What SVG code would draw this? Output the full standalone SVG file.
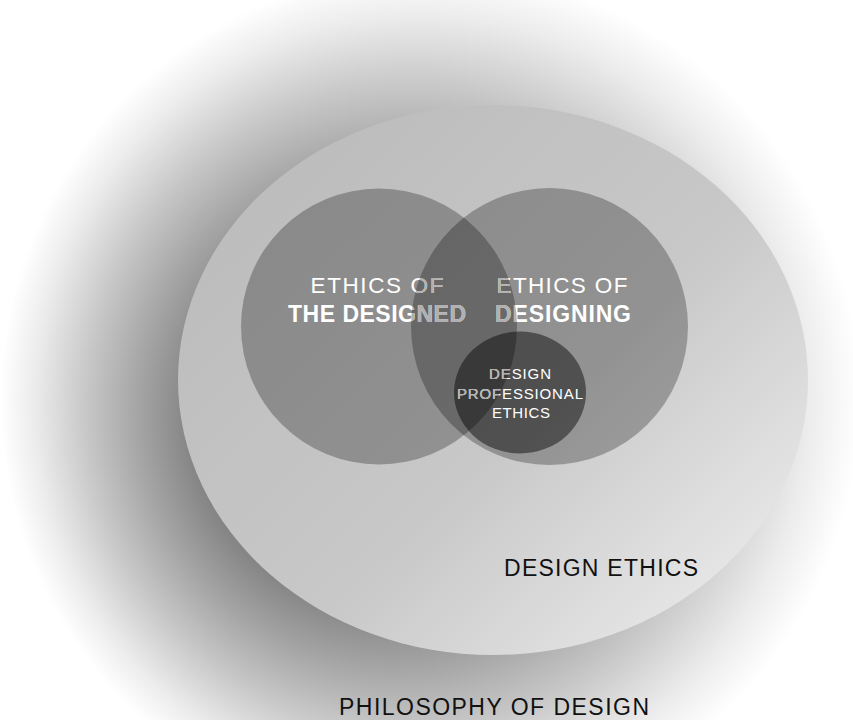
<svg xmlns="http://www.w3.org/2000/svg" width="853" height="720" viewBox="0 0 853 720">
  <defs>
    <!-- soft grey halo of the outer field, heaviest towards the lower left -->
    <radialGradient id="haloGrad" gradientUnits="userSpaceOnUse" cx="430" cy="400" r="430" fx="340" fy="430">
      <stop offset="0" stop-color="#606060"/>
      <stop offset="0.45" stop-color="#868686"/>
      <stop offset="0.6" stop-color="#a6a6a6"/>
      <stop offset="0.75" stop-color="#c8c8c8"/>
      <stop offset="0.9" stop-color="#ececec"/>
      <stop offset="1" stop-color="#ffffff"/>
    </radialGradient>
    <!-- light fill of the design-ethics field -->
    <linearGradient id="fieldGrad" gradientUnits="userSpaceOnUse" x1="300" y1="170" x2="770" y2="650">
      <stop offset="0" stop-color="#bdbdbd"/>
      <stop offset="0.5" stop-color="#c8c8c8"/>
      <stop offset="1" stop-color="#efefef"/>
    </linearGradient>
    <clipPath id="clipLeft"><circle cx="379" cy="326.5" r="138"/></clipPath>
    <clipPath id="clipRight"><circle cx="549.5" cy="326.5" r="138.5"/></clipPath>
    <style>
      .set { fill: #000; fill-opacity: 0.27; }
      .inner { fill: #000; fill-opacity: 0.45; }
      .lbl { font-family: "Liberation Sans", Arial, sans-serif; fill: #ffffff; text-anchor: middle; }
      .dim { fill: #b0b0b0; }
      .big { font-size: 22.5px; font-weight: 400; }
      .bold { font-size: 23px; font-weight: 700; }
      .small { font-size: 15px; font-weight: 400; }
      .title { font-family: "Liberation Sans", Arial, sans-serif; font-size: 23px; fill: #111111; }
    </style>
  </defs>

  <rect width="853" height="720" fill="#ffffff"/>

  <g id="philosophy-of-design">
    <circle cx="430" cy="400" r="430" fill="url(#haloGrad)"/>
    <text class="title" x="339" y="715" textLength="310" lengthAdjust="spacing">PHILOSOPHY OF DESIGN</text>
  </g>

  <g id="design-ethics">
    <ellipse cx="493" cy="380" rx="315" ry="275" fill="url(#fieldGrad)"/>
    <text class="title" x="504" y="576" textLength="194" lengthAdjust="spacing">DESIGN ETHICS</text>
  </g>

  <g id="ethics-of-the-designed">
    <circle class="set" cx="379" cy="326.5" r="138"/>
  </g>
  <g id="ethics-of-designing">
    <circle class="set" cx="549.5" cy="326.5" r="138.5"/>
  </g>
  <g id="design-professional-ethics">
    <ellipse class="inner" cx="520" cy="392.5" rx="66" ry="61"/>
  </g>

  <!-- labels: white, greyed where the neighbouring set lies over them -->
  <g id="labels">
    <g id="label-designed">
      <text class="lbl big" x="377" y="293" textLength="133" lengthAdjust="spacing">ETHICS OF</text>
      <text class="lbl bold" x="377" y="322" textLength="178" lengthAdjust="spacing">THE DESIGNED</text>
      <g clip-path="url(#clipRight)">
        <text class="lbl big dim" x="377" y="293" textLength="133" lengthAdjust="spacing">ETHICS OF</text>
        <text class="lbl bold dim" x="377" y="322" textLength="178" lengthAdjust="spacing">THE DESIGNED</text>
      </g>
    </g>
    <g id="label-designing">
      <text class="lbl big" x="562" y="293" textLength="131" lengthAdjust="spacing">ETHICS OF</text>
      <text class="lbl bold" x="563" y="322" textLength="136" lengthAdjust="spacing">DESIGNING</text>
      <g clip-path="url(#clipLeft)">
        <text class="lbl big dim" x="562" y="293" textLength="131" lengthAdjust="spacing">ETHICS OF</text>
        <text class="lbl bold dim" x="563" y="322" textLength="136" lengthAdjust="spacing">DESIGNING</text>
      </g>
    </g>
    <g id="label-professional">
      <text class="lbl small" x="520" y="379" textLength="62" lengthAdjust="spacing">DESIGN</text>
      <text class="lbl small" x="520" y="399" textLength="126" lengthAdjust="spacing">PROFESSIONAL</text>
      <text class="lbl small" x="521" y="418" textLength="58" lengthAdjust="spacing">ETHICS</text>
      <g clip-path="url(#clipLeft)">
        <text class="lbl small dim" x="520" y="379" textLength="62" lengthAdjust="spacing">DESIGN</text>
        <text class="lbl small dim" x="520" y="399" textLength="126" lengthAdjust="spacing">PROFESSIONAL</text>
        <text class="lbl small dim" x="521" y="418" textLength="58" lengthAdjust="spacing">ETHICS</text>
      </g>
    </g>
  </g>
</svg>
